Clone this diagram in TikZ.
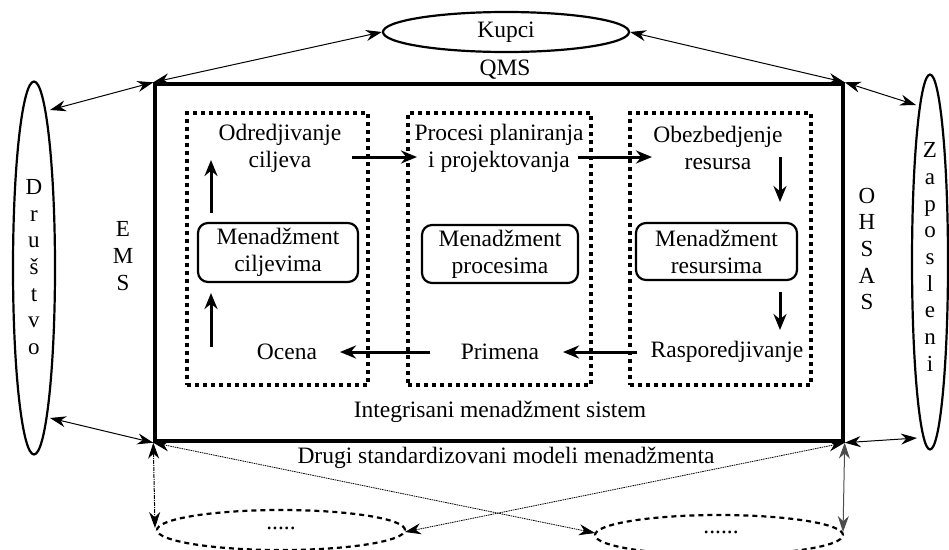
\documentclass[tikz,border=0pt]{standalone}
\usepackage{fontspec}
\setmainfont{Liberation Serif}
\usetikzlibrary{arrows.meta,shapes.geometric}
\begin{document}
\begin{tikzpicture}[x=1pt,y=-1pt,
  txt/.style={font=\fontsize{23.5}{27}\selectfont, align=center, inner sep=0pt},
  vtxt/.style={font=\fontsize{23}{26.7}\selectfont, align=center, inner sep=0pt},
  oval/.style={draw, ellipse, line width=2.2pt, inner sep=0pt},
  dashoval/.style={draw, ellipse, line width=2.2pt, inner sep=0pt, dash pattern=on 5pt off 4pt},
  mainbox/.style={draw, rectangle, line width=3.4pt, inner sep=0pt},
  dotbox/.style={draw, rectangle, line width=3.2pt, inner sep=0pt, dash pattern=on 4pt off 4pt},
  roundbox/.style={draw, rectangle, rounded corners=10pt, line width=2.2pt, inner sep=0pt, align=center, font=\fontsize{23.5}{27}\selectfont},
  link/.style={line width=1pt, {Stealth[length=16pt,width=11pt]}-{Stealth[length=16pt,width=11pt]}},
  dotlink/.style={link, line width=0.8pt, dash pattern=on 1.5pt off 0.8pt},
  flow/.style={line width=3pt, -{Stealth[length=16pt,width=13pt]}}
]
\useasboundingbox (0,0) rectangle (949,549);
\clip (0,0) rectangle (949,549);

% outer ellipses
\node[oval, minimum width=246pt, minimum height=40pt] (kupci) at (506,32) {};
\node[txt] at (kupci.center) {Kupci};
\node[oval, minimum width=42pt, minimum height=373pt] (drustvo) at (34,268) {};
\node[vtxt] at (34,267) {D\\r\\u\\š\\t\\v\\o};
\node[oval, minimum width=36pt, minimum height=375pt] (zaposleni) at (930,262) {};
\node[vtxt] at (930,257) {Z\\a\\p\\o\\s\\l\\e\\n\\i};
\node[dashoval, minimum width=248pt, minimum height=40pt] (botL) at (281,530) {};
\node[txt] at (281,528) {.....};
\node[dashoval, minimum width=248pt, minimum height=40pt] (botR) at (719,535) {};
\node[txt] at (721,532) {......};

% main rectangle
\node[mainbox, minimum width=688pt, minimum height=357pt] (ims) at (499,262.5) {};
\node[txt] (qms) at (505,70) {QMS};
\node[txt] (ims-lbl) at (500,412) {Integrisani menadžment sistem};
\node[txt] (drugi) at (506,458) {Drugi standardizovani modeli menadžmenta};
\node[vtxt] (ems) at (123,256) {E\\M\\S};
\node[vtxt] (ohsas) at (867,249) {O\\H\\S\\A\\S};

% dotted boxes
\node[dotbox, minimum width=181pt, minimum height=272pt] (b1) at (277.5,249) {};
\node[dotbox, minimum width=183pt, minimum height=272pt] (b2) at (499.5,249) {};
\node[dotbox, minimum width=181pt, minimum height=272pt] (b3) at (720.5,249) {};

% rounded boxes
\node[roundbox, minimum width=160pt, minimum height=59pt] (r1) at (278,252.5) {Menadžment\\ciljevima};
\node[roundbox, minimum width=156pt, minimum height=58pt] (r2) at (500,254) {Menadžment\\procesima};
\node[roundbox, minimum width=161pt, minimum height=57pt] (r3) at (716.5,251.5) {Menadžment\\resursima};

% step texts
\node[txt] (t1) at (280,148) {Odredjivanje\\ciljeva};
\node[txt] (t2) at (499,148) {Procesi planiranja\\i projektovanja};
\node[txt] (t3) at (718,148) {Obezbedjenje\\resursa};
\node[txt] (ocena) at (287,352) {Ocena};
\node[txt] (primena) at (500,352) {Primena};
\node[txt] (raspo) at (727,352) {Rasporedjivanje};

% flow arrow end points
\coordinate (u1a) at (211,347); \coordinate (u1b) at (211,293);
\coordinate (u2a) at (211,213); \coordinate (u2b) at (211,160);
\coordinate (h1a) at (352,157); \coordinate (h1b) at (417,157);
\coordinate (h2a) at (578,157); \coordinate (h2b) at (652,157);
\coordinate (d1a) at (780,157); \coordinate (d1b) at (780,202);
\coordinate (d2a) at (780,292); \coordinate (d2b) at (780,330);
\coordinate (l1a) at (637,352); \coordinate (l1b) at (563,352);
\coordinate (l2a) at (430,352); \coordinate (l2b) at (340,352);

\draw[flow] (u1a) -- (u1b);
\draw[flow] (u2a) -- (u2b);
\draw[flow] (h1a) -- (h1b);
\draw[flow] (h2a) -- (h2b);
\draw[flow] (d1a) -- (d1b);
\draw[flow] (d2a) -- (d2b);
\draw[flow] (l1a) -- (l1b);
\draw[flow] (l2a) -- (l2b);

% outer links
\coordinate (dU) at (50,110); \coordinate (dL) at (50,418);
\coordinate (zU) at (916,105); \coordinate (zL) at (917,438);
\coordinate (bl) at (155,528); \coordinate (br) at (843,532);
\coordinate (blr) at (405,532); \coordinate (brl) at (595,533);

\draw[link] (kupci.west) -- (ims.north west);
\draw[link] (kupci.east) -- (ims.north east);
\draw[link] (dU) -- (ims.north west);
\draw[link] (ims.north east) -- (zU);
\draw[link] (dL) -- (ims.south west);
\draw[link] (ims.south east) -- (zL);
\draw[link, dash pattern=on 4pt off 1pt on 1pt off 1pt] (ims.south west) -- (bl);
\draw[link, draw=black!70] (ims.south east) -- (br);
\draw[dotlink] (ims.south west) -- (brl);
\draw[dotlink] (ims.south east) -- (blr);
\end{tikzpicture}
\end{document}
